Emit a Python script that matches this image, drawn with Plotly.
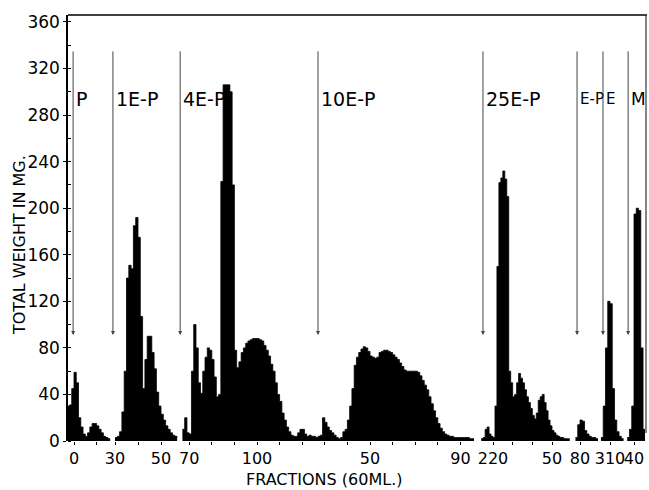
import plotly.graph_objects as go

# ---------------- data ----------------
# Total weight (mg) per 60 ml fraction, one list per eluent segment of the broken axis
p_fractions = list(range(-3, 17))
p_weights = [30, 31, 45, 59, 50, 20, 12, 6, 4, 7, 12, 15, 15, 13, 10, 7, 4, 3, 2, 2]

e1_fractions = list(range(30, 58))
e1_weights = [3, 4, 8, 25, 60, 140, 151, 148, 185, 192, 175, 107, 45, 70, 90,
              90, 76, 62, 42, 30, 23, 18, 13, 10, 7, 5, 4, 3]

e4_10_fractions = list(range(67, 197))
e4_10_weights = [
    10, 20, 7, 6, 60, 100, 80, 50, 41, 60,
    72, 80, 78, 70, 55, 38, 40, 223, 306, 306,
    306, 300, 220, 78, 63, 68, 76, 80, 84, 86,
    87, 88, 88, 88, 87, 86, 82, 78, 73, 66,
    60, 50, 40, 34, 24, 18, 12, 8, 5, 4,
    4, 7, 10, 10, 6, 4, 5, 4, 4, 3,
    4, 5, 20, 16, 12, 9, 7, 5, 3, 2,
    3, 8, 10, 18, 30, 45, 65, 72, 76, 79,
    81, 80, 77, 73, 72, 71, 72, 76, 77, 78,
    78, 77, 76, 74, 72, 70, 67, 64, 61, 60,
    60, 60, 60, 60, 59, 56, 52, 48, 44, 38,
    32, 26, 20, 15, 11, 8, 6, 5, 4, 4,
    3, 3, 3, 3, 3, 3, 3, 2, 2, 2,
]

e25_fractions = list(range(214, 260))
e25_weights = [
    2, 3, 10, 12, 6, 4, 3, 30, 150, 222,
    226, 232, 225, 210, 60, 50, 38, 40, 50, 58,
    54, 50, 44, 38, 33, 28, 22, 19, 24, 35,
    38, 40, 33, 26, 18, 13, 9, 7, 5, 4,
    3, 3, 2, 2, 2, 2,
]

ep_fractions = list(range(278, 289))
ep_weights = [3, 14, 18, 17, 9, 6, 4, 3, 3, 2, 2]

e_fractions = list(range(306, 317))
e_weights = [3, 30, 80, 120, 118, 45, 18, 8, 4, 2, 2]

m_fractions = list(range(337, 346))
m_weights = [3, 10, 30, 195, 200, 198, 80, 10, 10]

# tick labels per axis segment
seg_tickvals = [[0, 10], [30, 40, 50],
                [70, 80, 90, 100, 110, 120, 130, 140, 150, 160, 170, 180, 190],
                [220, 230, 240, 250], [280], [310], [340]]
seg_ticktext = [["0", ""], ["30", "", "50"],
                ["70", "", "", "100", "", "", "", "", "50", "", "", "", "90"],
                ["220", "", "", "50"], ["80"], ["310"], ["40"]]

# solvent changes (arrows) : label, fraction, segment index
solvent_labels = ["P", "1E-P", "4E-P", "10E-P", "25E-P", "E-P", "E", "M"]
solvent_fractions = [-0.4, 29.1, 66.0, 127.0, 214.9, 278.7, 306.9, 337.4]
solvent_segment = [0, 1, 2, 2, 3, 4, 5, 6]

y_tickvals = [0, 40, 80, 120, 160, 200, 240, 280, 320, 360]

# ---------------- layout geometry ----------------
W, H = 649, 490
X0, X1, Y0, Y1 = 68, 647, 15, 441      # plot area in pixels
L, R, T, B = X0, W - X1, Y0, H - Y1
PW, PH = X1 - X0, Y1 - Y0
Y_MAX = 366


def dom(px):
    return (px - X0) / PW


def py(px_y):
    return (Y1 - px_y) / PH


# segment pixel extents and scale: (px_left, px_right, ref_fraction, ref_px, px_per_fraction)
seg_geom = [
    (68, 111, 0, 74, 2.26),
    (112.5, 179, 30, 115, 2.3),
    (179.5, 479, 100, 257, 2.26),
    (481, 571, 220, 493, 1.967),
    (574, 598, 280, 580, 2.26),
    (600, 624, 310, 610, 2.26),
    (626, 645, 340, 634, 2.26),
]

series = [(p_fractions, p_weights), (e1_fractions, e1_weights),
          (e4_10_fractions, e4_10_weights), (e25_fractions, e25_weights),
          (ep_fractions, ep_weights), (e_fractions, e_weights),
          (m_fractions, m_weights)]

FONT = "DejaVu Sans"
fig = go.Figure()
layout = {}
for i, ((fr, wt), (pl, pr, rf, rp, k)) in enumerate(zip(series, seg_geom)):
    xname = "x" if i == 0 else f"x{i + 1}"
    fig.add_trace(go.Scatter(
        x=fr, y=wt, xaxis=xname, yaxis="y", mode="lines",
        line=dict(shape="hv", color="black", width=0.8),
        fill="tozeroy", fillcolor="black", showlegend=False,
    ))
    layout["xaxis" if i == 0 else f"xaxis{i + 1}"] = dict(
        domain=[dom(pl), dom(pr)],
        range=[rf + (pl - rp) / k, rf + (pr - rp) / k],
        anchor="y", showgrid=False, zeroline=False, showline=False,
        ticks="outside", ticklen=3, tickwidth=1, tickcolor="black",
        tickvals=seg_tickvals[i], ticktext=seg_ticktext[i],
        tickfont=dict(family=FONT, size=16, color="black"),
    )

layout["yaxis"] = dict(
    domain=[0, 1], range=[0, Y_MAX], anchor="x",
    showgrid=False, zeroline=False, showline=True,
    linecolor="black", linewidth=1.5,
    tickvals=y_tickvals, ticks="outside", ticklen=3, tickcolor="black",
    tickfont=dict(family=FONT, size=17, color="black"),
    minor=dict(dtick=20, tick0=0, ticks="inside", ticklen=3, tickcolor="black"),
)

annotations = []
for lab, f, s in zip(solvent_labels, solvent_fractions, solvent_segment):
    xr = "x" if s == 0 else f"x{s + 1}"
    annotations.append(dict(
        x=f, y=91, xref=xr, yref="y", ax=f, ay=336, axref=xr, ayref="y",
        showarrow=True, arrowhead=2, arrowsize=0.8, arrowwidth=1,
        arrowcolor="#444", text="",
    ))
    annotations.append(dict(
        x=f, y=294, xref=xr, yref="y", text=lab, showarrow=False,
        xanchor="left", yanchor="middle", xshift=1,
        font=dict(family=FONT, size=15 if lab in ("E-P", "E") else (17 if lab == "M" else 19),
                  color="black"),
    ))

annotations.append(dict(
    x=dom(19), y=py(245), xref="paper", yref="paper",
    text="TOTAL WEIGHT IN MG.", textangle=-90, showarrow=False,
    xanchor="center", yanchor="middle",
    font=dict(family=FONT, size=16, color="black"),
))
annotations.append(dict(
    x=dom(324), y=py(479), xref="paper", yref="paper",
    text="FRACTIONS (60ML.)", showarrow=False,
    xanchor="center", yanchor="middle",
    font=dict(family=FONT, size=16, color="black"),
))

shapes = [
    dict(type="line", xref="paper", yref="paper", x0=0, x1=1, y0=1, y1=1,
         line=dict(color="black", width=1.5)),
    dict(type="line", xref="paper", yref="paper", x0=dom(646), x1=dom(646),
         y0=py(433), y1=1, line=dict(color="#333", width=1.2)),
]

fig.update_layout(
    width=W, height=H,
    margin=dict(l=L, r=R, t=T, b=B, autoexpand=False),
    paper_bgcolor="white", plot_bgcolor="white",
    annotations=annotations, shapes=shapes,
    font=dict(family=FONT, color="black"),
    **layout,
)

# place the figure at the page origin (no default body margin / scrollbars)
fig.write_html(
    "out.html",
    config={"displayModeBar": False},
    post_script="document.body.style.margin='0';document.body.style.overflow='hidden';",
)
